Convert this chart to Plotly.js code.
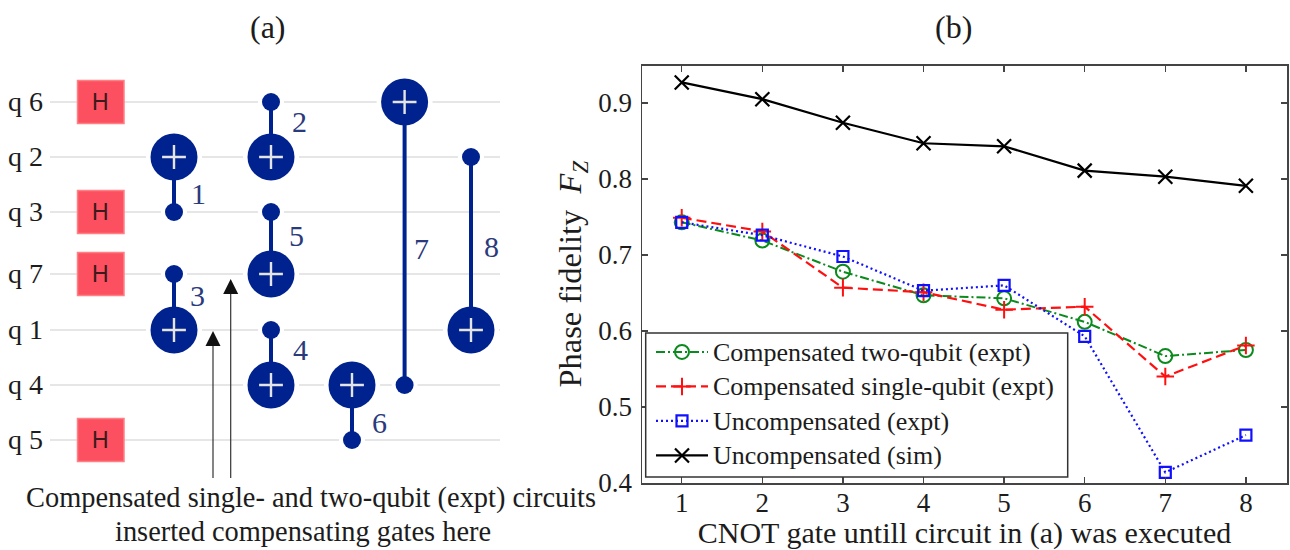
<!DOCTYPE html>
<html><head><meta charset="utf-8">
<script src="https://cdn.plot.ly/plotly-3.0.1.min.js"></script>
<style>html,body{margin:0;padding:0;background:#fff}#c{width:1290px;height:550px}</style>
</head><body><div id="c"></div>
<script>
// ---- panel (b) values
const steps = [1,2,3,4,5,6,7,8];
const twoQubit = [0.743,0.719,0.678,0.647,0.643,0.612,0.567,0.575];
const singleQubit = [0.749,0.731,0.657,0.651,0.628,0.632,0.540,0.581];
const uncompExpt = [0.743,0.726,0.698,0.653,0.660,0.593,0.414,0.463];
const uncompSim = [0.927,0.905,0.874,0.847,0.843,0.811,0.803,0.791];
const seriesNames = ['Compensated two-qubit (expt)','Compensated single-qubit (expt)','Uncompensated (expt)','Uncompensated (sim)'];
const yTicks = [0.4,0.5,0.6,0.7,0.8,0.9];

// ---- panel (a) circuit diagram, in diagram units
const qubitNames = ['q 6','q 2','q 3','q 7','q 1','q 4','q 5'];
const qubitRows = [102,157,212,274,330,385,440];
const hadamardRows = [102,212,274,440];
const gateX = [174,271,174,271,271,352,404.6,471];
const gateTarget = [157,157,330,385,274,385,102,330];
const gateControl = [212,102,274,330,212,440,385,157];
const gateNames = ['1','2','3','4','5','6','7','8'];
const gateNameX = [198,299,197,300,296,379,421,491];
const gateNameY = [193,121,295,349,235,422,248,246];
const arrowX = [213,230.7];
const arrowTipY = [331,279];
const arrowTailY = [478,478];

const serif = '"Liberation Serif","Times New Roman",serif';
const navy = '#00228f';
const ink = '#1c1c1c';
const lg = n => '<span style="font-size:26px">'+n+'</span>';

function segs(xs1,ys1,xs2,ys2){
  const x=[],y=[];
  xs1.forEach((v,i)=>{x.push(v,xs2[i],null);y.push(ys1[i],ys2[i],null);});
  return {x,y};
}
const wires = segs(qubitRows.map(()=>50),qubitRows,qubitRows.map(()=>500),qubitRows);
const stems = segs(gateX,gateTarget,gateX,gateControl);
const shafts = segs(arrowX,arrowTipY.map(t=>t+12),arrowX,arrowTailY);
const dg = {xaxis:'x2',yaxis:'y2',showlegend:false,hoverinfo:'skip'};

const traces = [
  Object.assign({type:'scatter',mode:'lines',x:wires.x,y:wires.y,line:{color:'#e6e6e6',width:2}},dg),
  Object.assign({type:'scatter',mode:'markers',x:gateX,y:gateTarget,marker:{symbol:'circle',size:56,color:'#fff'}},dg),
  Object.assign({type:'scatter',mode:'markers',x:gateX,y:gateControl,marker:{symbol:'circle',size:26,color:'#fff'}},dg),
  Object.assign({type:'scatter',mode:'lines',x:stems.x,y:stems.y,line:{color:navy,width:4}},dg),
  Object.assign({type:'scatter',mode:'markers',x:gateX,y:gateTarget,marker:{symbol:'circle',size:47,color:navy}},dg),
  Object.assign({type:'scatter',mode:'markers',x:gateX,y:gateControl,marker:{symbol:'circle',size:18,color:navy}},dg),
  Object.assign({type:'scatter',mode:'markers',x:gateX,y:gateTarget,marker:{symbol:'cross-thin',size:17,color:'#e4e4e4',line:{color:'#e4e4e4',width:2.4}}},dg),
  Object.assign({type:'scatter',mode:'lines',x:shafts.x,y:shafts.y,line:{color:'#333',width:1.2}},dg)
];
arrowX.forEach((x,i)=>traces.push(Object.assign({type:'scatter',mode:'lines',fill:'toself',fillcolor:'#111',
  x:[x-7.5,x+7.5,x,x-7.5],y:[arrowTipY[i]+15,arrowTipY[i]+15,arrowTipY[i],arrowTipY[i]+15],line:{color:'#111',width:0}},dg)));
traces.push(
  {type:'scatter',mode:'lines+markers',name:lg(seriesNames[0]),legendgroup:'a',x:steps,y:twoQubit,
   line:{color:'#0b8a1d',width:2,dash:'9px,3px,2px,3px'},marker:{symbol:'circle-open',size:14,color:'#0b8a1d',line:{width:2,color:'#0b8a1d'}}},
  {type:'scatter',mode:'lines+markers',name:lg(seriesNames[1]),legendgroup:'b',x:steps,y:singleQubit,
   line:{color:'#ff1010',width:2.2,dash:'10px,5px'},marker:{symbol:'cross-thin',size:12.5,color:'#ff1010',line:{width:2,color:'#ff1010'}}},
  {type:'scatter',mode:'lines+markers',name:lg(seriesNames[2]),legendgroup:'c',x:steps,y:uncompExpt,
   line:{color:'#1010ff',width:2.2,dash:'2px,3px'},marker:{symbol:'square-open',size:11,color:'#1010ff',line:{width:2.2,color:'#1010ff'}}},
  {type:'scatter',mode:'lines+markers',name:lg(seriesNames[3]),legendgroup:'d',x:steps,y:uncompSim,
   line:{color:'#000',width:2.2},marker:{symbol:'x-thin',size:14,color:'#000',line:{width:2.2,color:'#000'}}}
);

const anns = [];
function txt(x,y,t,size,color,extra){
  anns.push(Object.assign({xref:'x2',yref:'y2',x,y,text:t,showarrow:false,xanchor:'center',yanchor:'middle',
    font:{family:serif,size,color}},extra||{}));
}
function ptxt(px,py,t,size,color){
  anns.push({xref:'paper',yref:'paper',x:px/1290,y:1-py/550,text:t,showarrow:false,xanchor:'center',yanchor:'middle',
    font:{family:serif,size,color}});
}
qubitNames.forEach((n,i)=>txt(25.5,qubitRows[i]-1,n,28,ink));
gateNames.forEach((n,i)=>txt(gateNameX[i],gateNameY[i],n,30,'#2a3a7c'));
hadamardRows.forEach(r=>txt(100.5,r,'H',23,'#3a1a1a',{font:{family:'"Liberation Sans",Arial,sans-serif',size:23,color:'#3a1a1a'}}));
txt(268,27,'(a)',32,ink);
ptxt(953,27,'(b)',32,ink);
txt(311,498,'Compensated single- and two-qubit (expt) circuits',28.4,ink);
txt(303,531,'inserted compensating gates here',28.4,ink);

const shapes = [];
hadamardRows.forEach(r=>{
  shapes.push({type:'rect',xref:'x2',yref:'y2',x0:74,x1:127,y0:r-25,y1:r+25,fillcolor:'#fff',line:{width:0},layer:'between'});
});
const hbox = hadamardRows.map(r=>({type:'rect',xref:'x2',yref:'y2',x0:77.5,x1:124,y0:r-21.5,y1:r+21.5,
  fillcolor:'#fc5060',line:{color:'#ff7f85',width:1.5},layer:'above'}));
const legendBox = {type:'rect',xref:'paper',yref:'paper',x0:645.7/1290,x1:1067.7/1290,y0:1-477/550,y1:1-333/550,
  fillcolor:'#fff',line:{color:'#333',width:1.5},layer:'above'};

const layout = {
  width:1290,height:550,autosize:false,paper_bgcolor:'#fff',plot_bgcolor:'rgba(0,0,0,0)',
  margin:{l:0,r:0,t:0,b:0},showlegend:true,
  font:{family:serif,color:ink},
  xaxis:{domain:[642/1290,1287/1290],range:[0.507,8.51],tickvals:steps,ticks:'inside',ticklen:6,tickwidth:1.5,tickcolor:'#444',
    showgrid:false,zeroline:false,showline:true,linecolor:'#444',linewidth:1.5,mirror:'allticks',anchor:'y',
    tickfont:{family:serif,size:27,color:ink},ticklabelstandoff:-5,
    title:{text:'CNOT gate untill circuit in (a) was executed',font:{family:serif,size:30,color:ink},standoff:2}},
  yaxis:{domain:[1-483/550,1-65.5/550],range:[0.4,0.9493],tickvals:yTicks,tickformat:'.1f',ticks:'inside',ticklen:6,tickwidth:1.5,tickcolor:'#444',
    showgrid:false,zeroline:false,showline:true,linecolor:'#444',linewidth:1.5,mirror:'allticks',anchor:'x',
    tickfont:{family:serif,size:27,color:ink},ticklabelstandoff:3,
    title:{text:'Phase fidelity  <i>F<sub>Z</sub></i>',font:{family:serif,size:32.5,color:ink},standoff:7}},
  xaxis2:{domain:[0,645/1290],range:[0,645],visible:false,anchor:'y2',fixedrange:true},
  yaxis2:{domain:[0,1],range:[550,0],visible:false,anchor:'x2',fixedrange:true},
  legend:{x:651/1290,y:1-330.5/550,xanchor:'left',yanchor:'top',bgcolor:'rgba(0,0,0,0)',borderwidth:0,
    font:{family:serif,size:23,color:ink},itemwidth:52,tracegroupgap:1.6,itemsizing:'trace'},
  annotations:anns,
  shapes:shapes.concat(hbox,[legendBox])
};
Plotly.newPlot('c',traces,layout,{displayModeBar:false,staticPlot:true});
</script></body></html>
